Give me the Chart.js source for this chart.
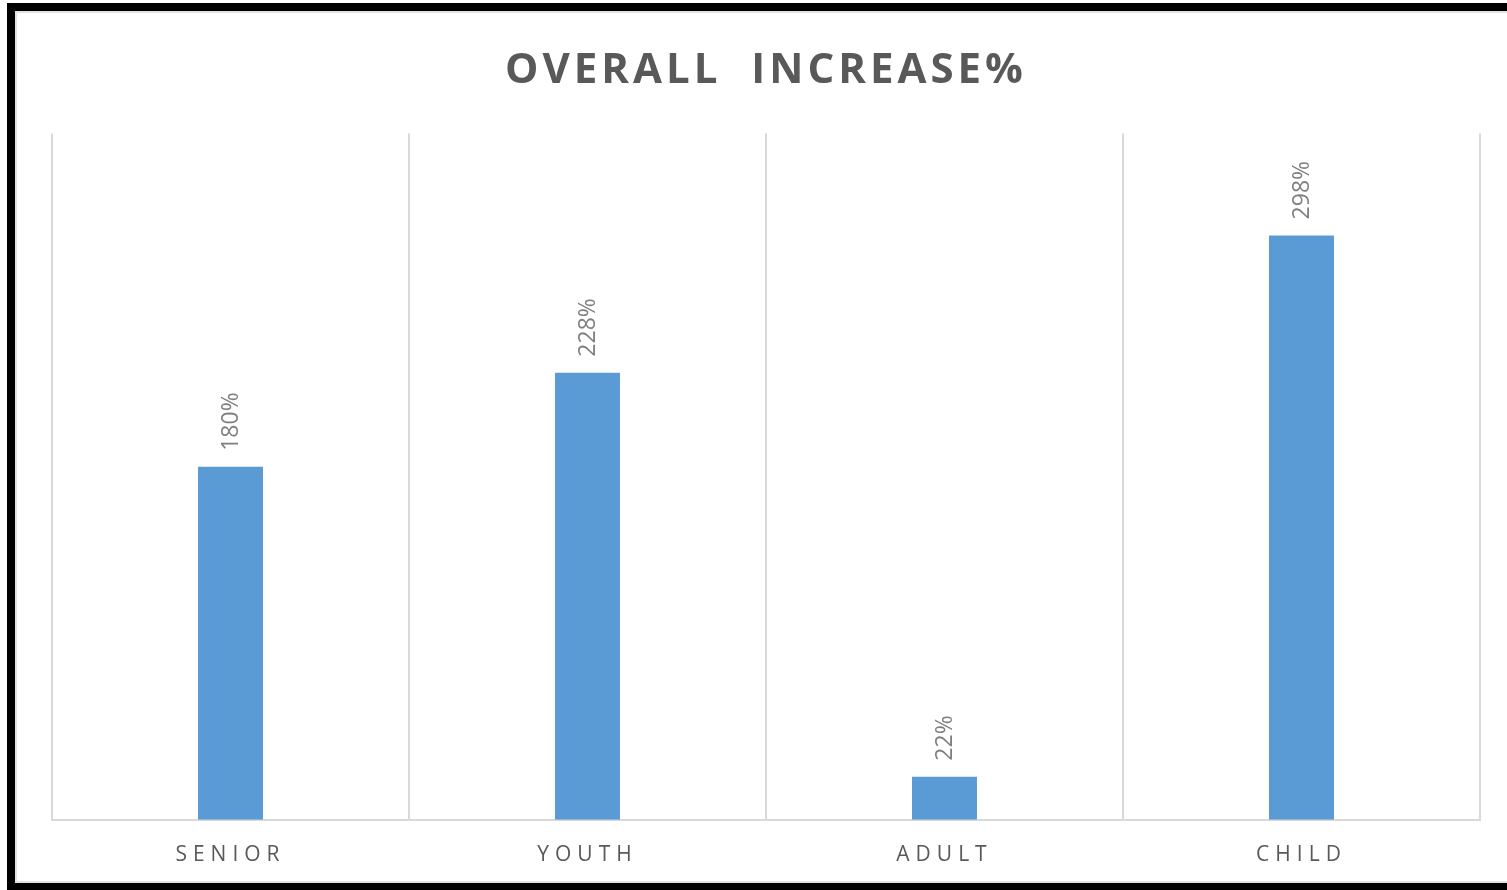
<!DOCTYPE html>
<html>
<head>
<meta charset="utf-8">
<script src="https://cdn.jsdelivr.net/npm/chart.js@4/dist/chart.umd.min.js"></script>
<style>
  html, body { margin: 0; padding: 0; background: #fff; }
  body { width: 1507px; height: 890px; position: relative; overflow: hidden; }
  #marco {
    position: absolute; left: 7px; top: 3px; width: 1520px; height: 872px;
    border: 8px solid #000; border-right: none; box-sizing: content-box;
  }
  #marco::after {
    content: ''; position: absolute; inset: 0; border: 2px solid #e2e2e2;
  }
  #wrap { position: absolute; left: 0; top: 0; width: 1507px; height: 890px; }
</style>
</head>
<body>
<div id="marco"></div>
<div id="wrap"><canvas id="graficoIncremento"></canvas></div>
<script>
// Datos del gráfico
const categorias = ["SENIOR", "YOUTH", "ADULT", "CHILD"];
const incrementos = [180, 228, 22, 298]; // % de incremento
const tituloGrafico = "OVERALL  INCREASE%";

const grisTexto = '#595959';

// Etiquetas de valor giradas sobre cada barra
const etiquetasBarras = {
    id: 'etiquetasBarras',
    afterDatasetsDraw(chart) {
        const ctx = chart.ctx;
        const meta = chart.getDatasetMeta(0);
        ctx.save();
        ctx.fillStyle = '#7f7f7f';
        ctx.font = '23px "Open Sans", sans-serif';
        ctx.textAlign = 'left';
        ctx.textBaseline = 'middle';
        meta.data.forEach((barra, i) => {
            ctx.save();
            ctx.translate(barra.x + 1, barra.y - 16);
            ctx.rotate(-Math.PI / 2);
            ctx.fillText(incrementos[i] + '%', 0, 0);
            ctx.restore();
        });
        ctx.restore();
    }
};

// Espaciado de letras para el título y las categorías
const espaciado = {
    id: 'espaciado',
    afterLayout(chart) {
        const escala = chart.scales.x;
        if (!escala._espaciado) {
            const orig = escala.drawLabels;
            escala.drawLabels = function (area) {
                this.ctx.save();
                this.ctx.letterSpacing = '6px';
                orig.call(this, area);
                this.ctx.restore();
            };
            escala._espaciado = true;
        }
        const titulo = chart.titleBlock;
        if (titulo && !titulo._espaciado) {
            const origT = titulo.draw;
            titulo.draw = function () {
                this.ctx.save();
                this.ctx.letterSpacing = '4px';
                origT.call(this);
                this.ctx.restore();
            };
            titulo._espaciado = true;
        }
    }
};

const configIncremento = {
    type: 'bar',
    data: {
        labels: categorias,
        datasets: [{
            label: 'Overall Increase %',
            data: incrementos,
            backgroundColor: '#5b9bd5',
            borderWidth: 0,
            categoryPercentage: 1,
            barPercentage: 0.182
        }]
    },
    options: {
        responsive: false,
        animation: false,
        devicePixelRatio: 1,
        layout: { padding: { left: 52, right: 27, top: 0, bottom: -1 } },
        plugins: {
            legend: { display: false },
            tooltip: { enabled: false },
            title: {
                display: true,
                text: tituloGrafico,
                color: grisTexto,
                font: { family: '"Open Sans", sans-serif', size: 42, weight: 'bold' },
                padding: { top: 46, bottom: 37 }
            }
        },
        scales: {
            x: {
                grid: { color: '#d9d9d9', lineWidth: 2, drawTicks: false, offset: true },
                border: { color: '#d9d9d9', width: 2 },
                ticks: {
                    color: grisTexto,
                    padding: 23,
                    font: { family: '"Open Sans", sans-serif', size: 21 }
                }
            },
            y: {
                display: false,
                min: 0,
                max: 350
            }
        }
    },
    plugins: [etiquetasBarras, espaciado]
};

const lienzo = document.getElementById('graficoIncremento');
lienzo.width = 1507;
lienzo.height = 890;
new Chart(lienzo.getContext('2d'), configIncremento);
</script>
</body>
</html>
